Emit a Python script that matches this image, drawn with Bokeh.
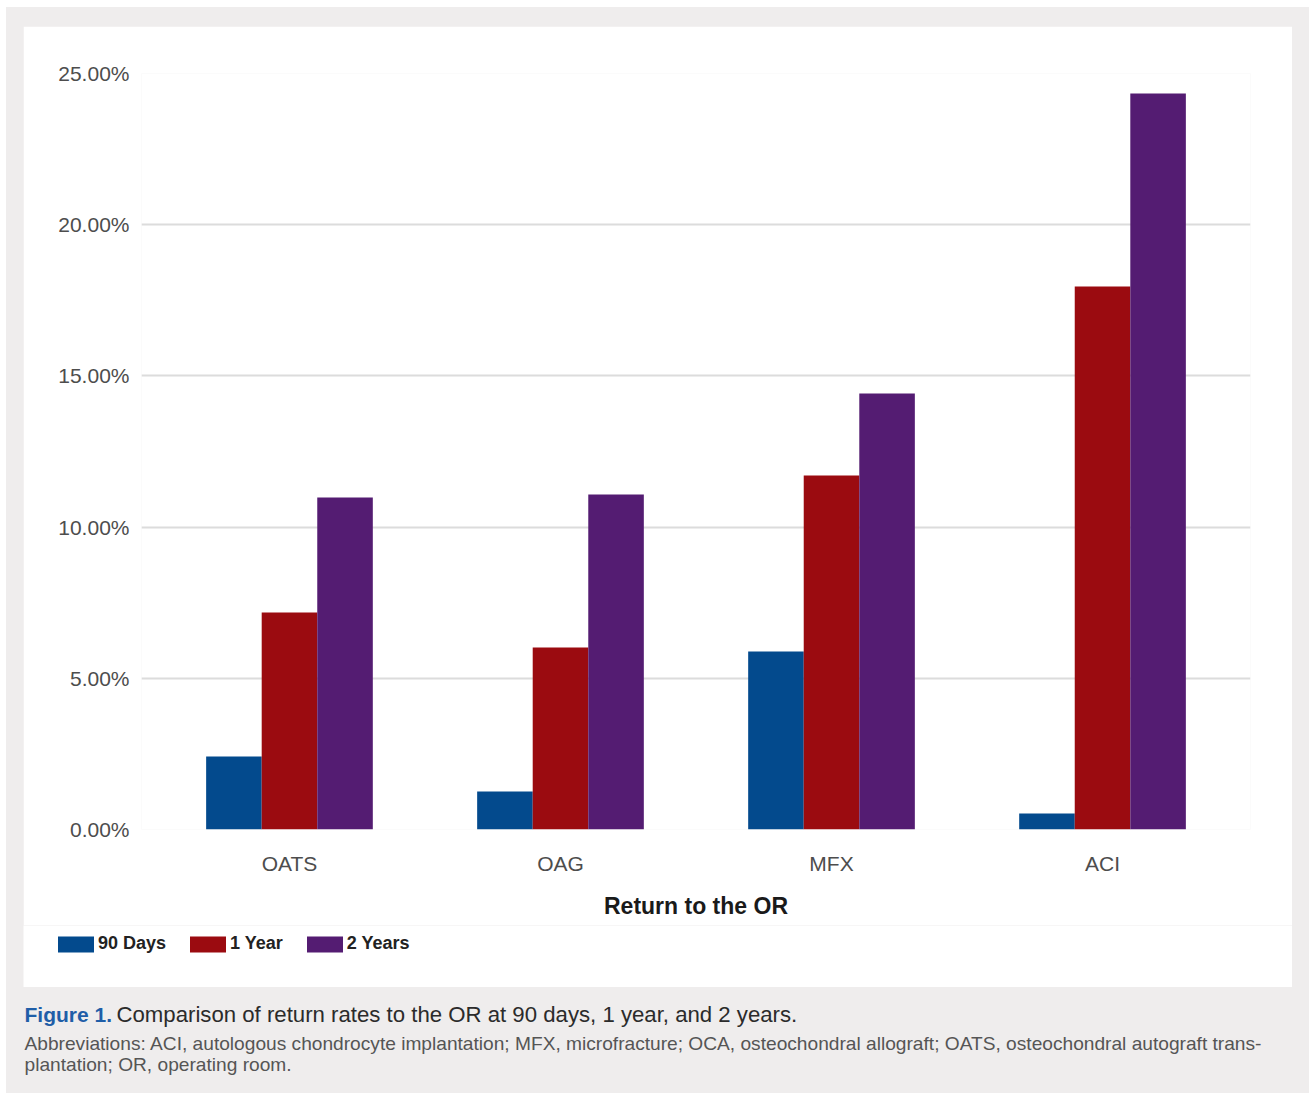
from bokeh.plotting import figure
from bokeh.models import (FactorRange, Range1d, Legend, LegendItem, FixedTicker,
                          PrintfTickFormatter, Spacer)
from bokeh.layouts import column, row
from bokeh.transform import dodge
from bokeh.core.properties import value
from bokeh.embed import file_html
from bokeh.resources import INLINE

# Return-to-OR rates (%) by procedure and follow-up interval
categories = ["OATS", "OAG", "MFX", "ACI"]
days_90 = [2.41, 1.26, 5.89, 0.53]
year_1 = [7.18, 6.02, 11.71, 17.96]
years_2 = [10.98, 11.08, 14.42, 24.34]
series_labels = ["90 Days", "1 Year", "2 Years"]
series_colors = ["#034a8d", "#9b0b10", "#541c72"]
tick_values = [0, 5, 10, 15, 20, 25]

x_title = "Return to the OR"
fig_tag = "Figure 1."
fig_caption = "Comparison of return rates to the OR at 90 days, 1 year, and 2 years."
abbrev_lines = [
    "Abbreviations: ACI, autologous chondrocyte implantation; MFX, microfracture; OCA, osteochondral allograft; OATS, osteochondral autograft trans-",
    "plantation; OR, operating room.",
]

GRAY = "#efeded"
FONT = "Liberation Sans"

data = dict(cat=categories, d90=days_90, y1=year_1, y2=years_2)
series_keys = ["d90", "y1", "y2"]
bw = 0.205
offsets = [-bw, 0.0, bw]

# main bar chart (upper part of the white panel)
p = figure(
    x_range=FactorRange(*categories, range_padding=0.023),
    y_range=Range1d(0, 25),
    width=1269, height=899,
    output_backend="svg", toolbar_location=None,
    min_border_left=118, min_border_right=42, min_border_top=47, min_border_bottom=96,
    background_fill_color="white", border_fill_color="white",
    outline_line_color=None,
)
for key, off, col in zip(series_keys, offsets, series_colors):
    p.vbar(x=dodge("cat", off, range=p.x_range), top=key, bottom=0, width=bw,
           source=data, fill_color=col, line_color=None)

p.yaxis.ticker = FixedTicker(ticks=tick_values)
p.yaxis.formatter = PrintfTickFormatter(format="%.2f%%")
for ax in (p.xaxis[0], p.yaxis[0]):
    ax.axis_line_color = None
    ax.major_tick_line_color = None
    ax.minor_tick_line_color = None
    ax.major_label_text_font = FONT
    ax.major_label_text_font_size = "21px"
    ax.major_label_text_color = "#4d4d4d"
p.yaxis.major_label_standoff = 6
p.xaxis.major_label_standoff = 16
p.xaxis.axis_label = x_title
p.xaxis.axis_label_text_font = FONT
p.xaxis.axis_label_text_font_style = "bold"
p.xaxis.axis_label_text_font_size = "23px"
p.xaxis.axis_label_text_color = "#1a1a1a"
p.xaxis.axis_label_standoff = 15

p.xgrid.grid_line_color = None
p.ygrid.grid_line_color = "#dcdcdc"
p.ygrid.grid_line_width = 2

# legend strip (lower part of the white panel); the series are hidden here,
# only their legend keys are shown
leg = figure(
    width=1269, height=62,
    x_range=FactorRange(*categories), y_range=Range1d(0, 25),
    x_axis_type=None, y_axis_type=None,
    output_backend="svg", toolbar_location=None, min_border=0,
    background_fill_color="white", border_fill_color="white", outline_line_color=None,
)
leg.grid.visible = False
keys = []
for key, off, col in zip(series_keys, offsets, series_colors):
    r = leg.vbar(x=dodge("cat", off, range=leg.x_range), top=key, bottom=0, width=bw,
                 source=data, fill_color=col, line_color=None, visible=False)
    keys.append(r)
legend = Legend(
    items=[LegendItem(label=lab, renderers=[r]) for lab, r in zip(series_labels, keys)],
    orientation="horizontal",
    location=(30, 33),
    glyph_width=45, glyph_height=20, label_height=16,
    label_standoff=0, spacing=19, padding=0, margin=0,
    label_text_font=FONT, label_text_font_style="bold",
    label_text_font_size="18px", label_text_color="#222222",
    inactive_fill_alpha=0.0,
    border_line_color=None, background_fill_alpha=0,
)
leg.add_layout(legend, "center")

# caption area
cap = figure(
    width=1303, height=106,
    x_range=Range1d(0, 1303), y_range=Range1d(106, 0),
    x_axis_type=None, y_axis_type=None,
    output_backend="svg", toolbar_location=None, min_border=0,
    background_fill_color=GRAY, border_fill_color=GRAY, outline_line_color=None,
)
cap.grid.visible = False
cap.text(x=[18], y=[27], text=[fig_tag], text_font=value(FONT), text_font_style="bold",
         text_font_size="21px", text_color="#1f5ea8", text_baseline="middle")
cap.text(x=[110], y=[27], text=[fig_caption], text_font=value(FONT),
         text_font_size="22.2px", text_color="#2b2b2b", text_baseline="middle")
cap.text(x=[18, 18], y=[56, 77], text=abbrev_lines, text_font=value(FONT),
         text_font_size="19.15px", text_color="#555555", text_baseline="middle")

layout = column(
    Spacer(width=1303, height=19),
    row(Spacer(width=17, height=899), p, Spacer(width=17, height=899)),
    row(Spacer(width=17, height=62), leg, Spacer(width=17, height=62)),
    cap,
    styles={"background-color": GRAY},
    margin=(7, 0, 0, 6),
)

open("out.html", "w").write(file_html(layout, INLINE))
